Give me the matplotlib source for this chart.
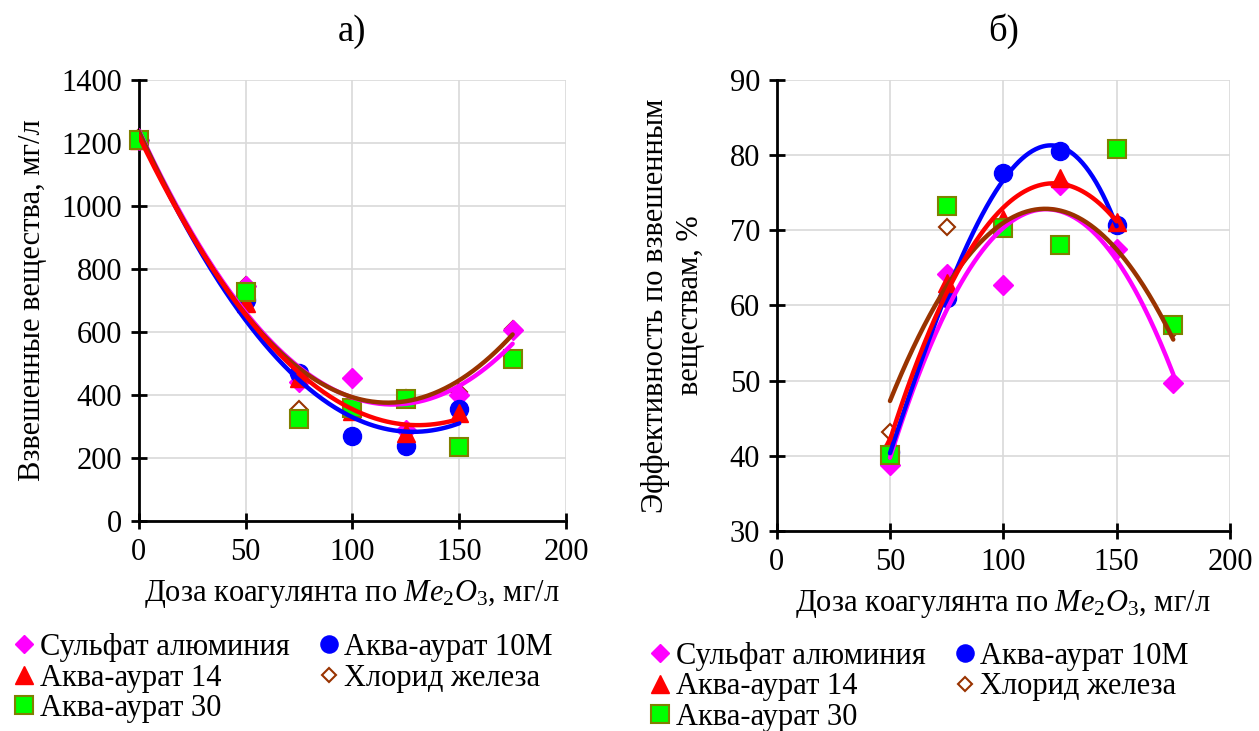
import numpy as np
import matplotlib
matplotlib.use('Agg')
import matplotlib.pyplot as plt
import matplotlib.font_manager as fm

# Times-like serif face for all the text
serif_name = 'Liberation Serif'
for p in fm.findSystemFonts():
    base = p.replace('\\', '/').split('/')[-1]
    if base.startswith('LiberationSerif'):
        fm.fontManager.addfont(p)
        serif_name = fm.FontProperties(fname=p).get_name()

plt.rcParams['font.family'] = 'serif'
plt.rcParams['font.serif'] = [serif_name, 'DejaVu Serif']
plt.rcParams['mathtext.fontset'] = 'custom'
plt.rcParams['mathtext.rm'] = serif_name
plt.rcParams['mathtext.it'] = serif_name + ':italic'
plt.rcParams['font.size'] = 22

# --- а) взвешенные вещества, мг/л
dose_a = [0, 50, 75, 100, 125, 150, 175]
dose_a_short = [0, 50, 75, 100, 125, 150]
ss_sulfate = [1210, 745, 440, 454, 290, 401, 607]
ss_aqua10m = [1210, 700, 470, 271, 237, 356]
ss_aqua14 = [1210, 693, 455, 350, 280, 344]
ss_chloride = [1220, 750, 355, 455, 390, 410, 610]
ss_aqua30 = [1210, 726, 324, 359, 388, 234, 515]

# --- б) эффективность, %
dose_b = [50, 75, 100, 125, 150, 175]
dose_b_short = [50, 75, 100, 125, 150]
ef_sulfate = [38.8, 64.2, 62.7, 76.0, 67.5, 49.7]
ef_aqua10m = [40.5, 61.0, 77.6, 80.5, 70.7]
ef_aqua14 = [41.7, 63.0, 71.5, 76.9, 71.1]
ef_chloride = [43.2, 70.5, 70.3, 68.0, 67.5, 56.9]
ef_aqua30 = [40.1, 73.3, 70.3, 68.0, 80.8, 57.4]

names = ['Сульфат алюминия', 'Аква-аурат 10М', 'Аква-аурат 14',
         'Хлорид железа', 'Аква-аурат 30']

C_MAG = '#FF00FF'
C_BLUE = '#0000FF'
C_RED = '#FF0000'
C_BROWN = '#993300'
C_GREEN = '#00FF00'
C_OLIVE = '#808000'

styles = {
    'Сульфат алюминия': dict(marker='D', ms=10, mfc=C_MAG, mec=C_MAG),
    'Аква-аурат 10М': dict(marker='o', ms=13, mfc=C_BLUE, mec=C_BLUE),
    'Аква-аурат 14': dict(marker='^', ms=13, mfc=C_RED, mec=C_RED),
    'Хлорид железа': dict(marker='D', ms=8, mfc='white', mec=C_BROWN, mew=1.5),
    'Аква-аурат 30': dict(marker='s', ms=13, mfc=C_GREEN, mec=C_OLIVE, mew=1.5),
}
# chloride markers sit underneath the others
zorders = {'Хлорид железа': 2.5, 'Сульфат алюминия': 3.0,
           'Аква-аурат 10М': 3.1, 'Аква-аурат 14': 3.2, 'Аква-аурат 30': 3.3}


def trend(ax, x, y, deg, color):
    # polynomial trendline over the data range
    p = np.polyfit(x, y, deg)
    xx = np.linspace(min(x), max(x), 200)
    ax.plot(xx, np.polyval(p, xx), color=color, lw=3.2, zorder=5,
            solid_capstyle='round')


def style_axes(ax):
    for s in ['top', 'right']:
        ax.spines[s].set_visible(False)
    for s in ['left', 'bottom']:
        ax.spines[s].set_linewidth(2)
        ax.spines[s].set_color('black')
    ax.tick_params(direction='inout', length=12, width=2, pad=6)
    ax.grid(True, color='#D9D9D9', lw=1.2)
    ax.set_axisbelow(True)


fig = plt.figure(figsize=(12.59, 7.31), dpi=100)

ax1 = fig.add_axes([0.1102, 0.2873, 0.3394, 0.6033])
ax2 = fig.add_axes([0.6169, 0.2736, 0.3600, 0.6170])

series_a = {
    'Сульфат алюминия': (dose_a, ss_sulfate),
    'Аква-аурат 10М': (dose_a_short, ss_aqua10m),
    'Аква-аурат 14': (dose_a_short, ss_aqua14),
    'Хлорид железа': (dose_a, ss_chloride),
    'Аква-аурат 30': (dose_a, ss_aqua30),
}
series_b = {
    'Сульфат алюминия': (dose_b, ef_sulfate),
    'Аква-аурат 10М': (dose_b_short, ef_aqua10m),
    'Аква-аурат 14': (dose_b_short, ef_aqua14),
    'Хлорид железа': (dose_b, ef_chloride),
    'Аква-аурат 30': (dose_b, ef_aqua30),
}

handles = {}
for ax, series in [(ax1, series_a), (ax2, series_b)]:
    for name in names:
        x, y = series[name]
        h, = ax.plot(x, y, ls='none', zorder=zorders[name], clip_on=False,
                     label=name, **styles[name])
        handles[name] = h

trend(ax1, dose_a, ss_sulfate, 2, C_MAG)
trend(ax1, dose_a_short, ss_aqua10m, 2, C_BLUE)
trend(ax1, dose_a, ss_chloride, 2, C_BROWN)
trend(ax1, dose_a_short, ss_aqua14, 2, C_RED)

trend(ax2, dose_b, ef_sulfate, 2, C_MAG)
trend(ax2, dose_b_short, ef_aqua10m, 3, C_BLUE)
trend(ax2, dose_b, ef_chloride, 2, C_BROWN)
trend(ax2, dose_b_short, ef_aqua14, 2, C_RED)

for ax in (ax1, ax2):
    style_axes(ax)
    ax.set_xlim(0, 200)
    ax.set_xticks([0, 50, 100, 150, 200])
    ax.set_xlabel(r'Доза коагулянта по $Me_{\mathit{2}}O_{\mathit{3}}$, мг/л',
                  labelpad=8)

ax1.set_ylim(0, 1400)
ax1.set_yticks(range(0, 1401, 200))
ax1.set_ylabel('Взвешенные вещества, мг/л', labelpad=10)
ax1.set_title('а)', pad=28)

ax2.set_ylim(30, 90)
ax2.set_yticks(range(30, 91, 10))
ax2.set_ylabel('Эффективность по взвешенным\nвеществам, %', labelpad=18,
               linespacing=1.25)
ax2.set_title('б)', pad=28)

order = ['Сульфат алюминия', 'Аква-аурат 14', 'Аква-аурат 30',
         'Аква-аурат 10М', 'Хлорид железа']
for anchor in [(0.0, -0.01), (0.505, -0.022)]:
    fig.legend([handles[n] for n in order], order, ncol=2,
               loc='lower left', bbox_to_anchor=anchor, frameon=False,
               handlelength=0.6, handletextpad=0.2, columnspacing=1.0,
               labelspacing=0.05, borderaxespad=0.1, markerscale=0.95,
               fontsize=22)

fig.savefig('out.png', dpi=100)
